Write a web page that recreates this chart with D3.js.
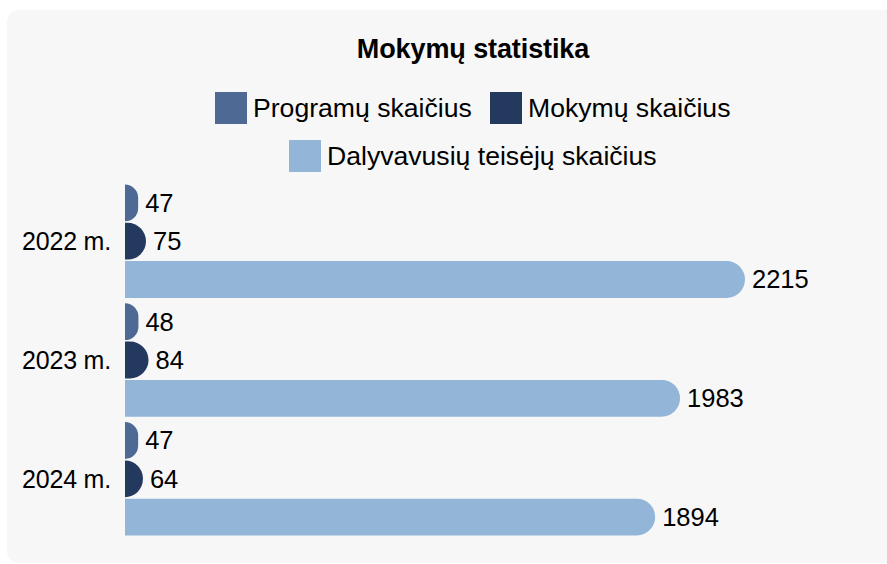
<!DOCTYPE html>
<html>
<head>
<meta charset="utf-8">
<script src="https://cdn.jsdelivr.net/npm/d3@7"></script>
<style>
  body { margin: 0; background: #fff; }
  svg { display: block; font-family: "Liberation Sans", Arial, sans-serif; }
</style>
</head>
<body>
<div id="chart"></div>
<script>
// chart data
const years = ['2022 m.', '2023 m.', '2024 m.'];
const seriesNames = ['Programų skaičius', 'Mokymų skaičius', 'Dalyvavusių teisėjų skaičius'];
const programs = [47, 48, 47];
const trainings = [75, 84, 64];
const judges = [2215, 1983, 1894];
const colors = ['#4e6a94', '#233a5e', '#93b6d8'];

const width = 887;
const height = 564;
const margin = { top: 183, bottom: 27, left: 125, right: 142 };

// one row per year, one value per series
const rows = years.map((y, i) => ({ year: y, values: [programs[i], trainings[i], judges[i]] }));

const svg = d3.select('#chart')
  .append('svg')
  .attr('width', width)
  .attr('height', height);

// grey card behind everything
svg.append('rect')
  .attr('x', 7).attr('y', 10)
  .attr('width', width + 20).attr('height', 553)
  .attr('rx', 12)
  .attr('fill', '#f7f7f7');

// title
svg.append('text')
  .attr('x', 473).attr('y', 58)
  .attr('text-anchor', 'middle')
  .attr('font-size', '27px')
  .attr('font-weight', 'bold')
  .attr('letter-spacing', '-0.1px')
  .attr('fill', '#000')
  .text('Mokymų statistika');

// legend: two items on the first row, one on the second
const legendPos = [
  { x: 215, y: 92 },
  { x: 490, y: 92 },
  { x: 289, y: 140 }
];
const legend = svg.append('g')
  .selectAll('g')
  .data(seriesNames)
  .join('g')
  .attr('transform', (d, i) => `translate(${legendPos[i].x},${legendPos[i].y})`);

legend.append('rect')
  .attr('width', 32).attr('height', 32)
  .attr('fill', (d, i) => colors[i]);

legend.append('text')
  .attr('x', 38).attr('y', 25)
  .attr('font-size', '26.6px')
  .attr('fill', '#000')
  .text(d => d);

// scales
const x = d3.scaleLinear()
  .domain([0, 2215])
  .range([margin.left, width - margin.right]);

const y0 = d3.scaleBand()
  .domain(years)
  .range([margin.top, height - margin.bottom])
  .paddingInner(0.02);

const y1 = d3.scaleBand()
  .domain(d3.range(3))
  .range([0, y0.bandwidth()])
  .padding(0.04);

// bar with rounded right end only
function barPath(w, h) {
  const r = Math.min(h / 2, w);
  return `M0,0H${w - r}A${r},${r} 0 0 1 ${w},${r}V${h - r}A${r},${r} 0 0 1 ${w - r},${h}H0Z`;
}

const groups = svg.append('g')
  .selectAll('g')
  .data(rows)
  .join('g')
  .attr('transform', d => `translate(0,${y0(d.year)})`);

const bars = groups.selectAll('g')
  .data(d => d.values.map((v, i) => ({ v, i })))
  .join('g')
  .attr('transform', d => `translate(${x(0)},${y1(d.i)})`);

bars.append('path')
  .attr('d', d => barPath(x(d.v) - x(0), y1.bandwidth()))
  .attr('fill', d => colors[d.i]);

bars.append('text')
  .attr('x', d => x(d.v) - x(0) + 7)
  .attr('y', y1.bandwidth() / 2)
  .attr('dy', '0.35em')
  .attr('font-size', '25.5px')
  .attr('fill', '#000')
  .text(d => d.v);

// year labels on the left
svg.append('g')
  .selectAll('text')
  .data(years)
  .join('text')
  .attr('x', 111)
  .attr('y', d => y0(d) + y0.bandwidth() / 2)
  .attr('dy', '0.35em')
  .attr('text-anchor', 'end')
  .attr('font-size', '25px')
  .attr('letter-spacing', '-0.2px')
  .attr('fill', '#000')
  .text(d => d);
</script>
</body>
</html>
